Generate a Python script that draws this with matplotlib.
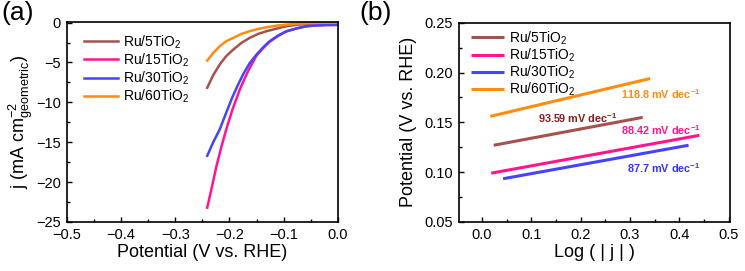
import matplotlib.pyplot as plt
from matplotlib.ticker import MultipleLocator

plt.rcParams["font.family"] = ["Liberation Sans", "DejaVu Sans"]
plt.rcParams["mathtext.fontset"] = "custom"
plt.rcParams["mathtext.rm"] = "Liberation Sans"
plt.rcParams["mathtext.it"] = "Liberation Sans:italic"
plt.rcParams["mathtext.bf"] = "Liberation Sans:bold"

labels = ["Ru/5TiO$_2$", "Ru/15TiO$_2$", "Ru/30TiO$_2$", "Ru/60TiO$_2$"]
colors = ["#A5524F", "#FF168C", "#4444FF", "#FF8C0F"]
text_colors = ["#8B1A1A", "#FF168C", "#3333FF", "#FF8C0F"]

# (a) LSV curves: potential (V vs RHE) and current density (mA cm-2)
pot_5 = [-0.241, -0.230, -0.218, -0.206, -0.193, -0.178, -0.163, -0.147, -0.132,
         -0.113, -0.095, -0.074, -0.052, -0.02, 0.0]
j_5 = [-8.17, -6.6, -5.26, -4.2, -3.38, -2.54, -1.92, -1.41, -1.08,
       -0.75, -0.45, -0.25, -0.16, -0.1, -0.08]
pot_15 = [-0.241, -0.232, -0.224, -0.215, -0.206, -0.195, -0.181, -0.172, -0.165,
          -0.150, -0.138, -0.126, -0.110, -0.095, -0.075, -0.058, -0.04, -0.02, 0.0]
j_15 = [-23.2, -20.5, -18.0, -15.6, -13.4, -11.0, -8.4, -7.0, -6.0,
        -4.1, -3.2, -2.4, -1.65, -1.1, -0.7, -0.45, -0.35, -0.3, -0.28]
pot_30 = [-0.241, -0.230, -0.218, -0.206, -0.195, -0.185, -0.175, -0.163, -0.150,
          -0.138, -0.126, -0.110, -0.095, -0.075, -0.058, -0.04, -0.02, 0.0]
j_30 = [-16.7, -15.0, -13.4, -11.3, -9.4, -7.9, -6.5, -5.1, -4.0,
        -3.1, -2.33, -1.6, -1.08, -0.7, -0.45, -0.35, -0.3, -0.28]
pot_60 = [-0.241, -0.230, -0.218, -0.206, -0.193, -0.178, -0.163, -0.147, -0.132,
          -0.113, -0.095, -0.074, -0.052, -0.02, 0.0]
j_60 = [-4.75, -3.8, -2.96, -2.33, -1.92, -1.41, -1.08, -0.79, -0.58,
        -0.37, -0.25, -0.12, -0.05, 0.0, 0.0]

# (b) Tafel fits: start/end of each line
tafel_x = [[0.024, 0.326], [0.019, 0.441], [0.043, 0.419], [0.017, 0.341]]
tafel_y = [[0.127, 0.155], [0.099, 0.137], [0.0934, 0.127], [0.156, 0.194]]
slopes = ["93.59", "88.42", "87.7", "118.8"]
slope_pos = [(0.113, 0.154), (0.282, 0.142), (0.295, 0.104), (0.282, 0.178)]

fig = plt.figure(figsize=(7.45, 2.71), dpi=100)
ax1 = fig.add_axes([0.0895, 0.181, 0.3642, 0.739])
ax2 = fig.add_axes([0.6157, 0.181, 0.3642, 0.735])

lsv = [(pot_5, j_5), (pot_15, j_15), (pot_30, j_30), (pot_60, j_60)]
for (x, y), c, lab in zip(lsv, colors, labels):
    ax1.plot(x, y, color=c, lw=1.8, label=lab)

for xs, ys, c, lab in zip(tafel_x, tafel_y, colors, labels):
    ax2.plot(xs, ys, color=c, lw=2.2, label=lab, solid_capstyle="butt")
for s, (tx, ty), tc in zip(slopes, slope_pos, text_colors):
    ax2.text(tx, ty, s + " mV dec$^{\\mathbf{-1}}$", color=tc, fontsize=7.8,
             fontweight="bold", va="center", ha="left")

ax1.set_xlim(-0.5, 0.0)
ax1.set_ylim(-25, 0.12)
ax1.xaxis.set_major_locator(MultipleLocator(0.1))
ax1.xaxis.set_minor_locator(MultipleLocator(0.05))
ax1.yaxis.set_major_locator(MultipleLocator(5))
ax1.yaxis.set_minor_locator(MultipleLocator(2.5))
ax1.set_xlabel("Potential (V vs. RHE)", fontsize=13, labelpad=2)
ax1.set_ylabel("j (mA cm$^{-2}_{\\mathrm{geometric}}$)", fontsize=13)
ax1.yaxis.set_label_coords(-0.117, 0.5)

ax2.set_xlim(-0.047, 0.503)
ax2.set_ylim(0.05, 0.25)
ax2.xaxis.set_major_locator(MultipleLocator(0.1))
ax2.xaxis.set_minor_locator(MultipleLocator(0.05))
ax2.yaxis.set_major_locator(MultipleLocator(0.05))
ax2.yaxis.set_minor_locator(MultipleLocator(0.025))
ax2.set_xlabel("Log ( | j | )", fontsize=13, labelpad=2)
ax2.set_ylabel("Potential (V vs. RHE)", fontsize=13)
ax2.yaxis.set_label_coords(-0.152, 0.5)

for ax in (ax1, ax2):
    ax.tick_params(which="both", direction="in", labelsize=10.5, width=1.0, pad=4)
    ax.tick_params(which="major", length=3.5)
    ax.tick_params(which="minor", length=2.5)
    for sp in ax.spines.values():
        sp.set_linewidth(1.2)

ax1.legend(loc="upper left", frameon=False, fontsize=10, handlelength=2.4,
           handletextpad=0.35, labelspacing=0.05, borderaxespad=0.0,
           bbox_to_anchor=(0.045, 0.97))
ax2.legend(loc="upper left", frameon=False, fontsize=10, handlelength=2.4,
           handletextpad=0.35, labelspacing=-0.02, borderaxespad=0.0,
           bbox_to_anchor=(0.025, 0.995))

fig.text(0.002, 0.995, "(a)", fontsize=19, va="top", ha="left")
fig.text(0.482, 0.995, "(b)", fontsize=19, va="top", ha="left")

fig.savefig("out.png", dpi=100)
